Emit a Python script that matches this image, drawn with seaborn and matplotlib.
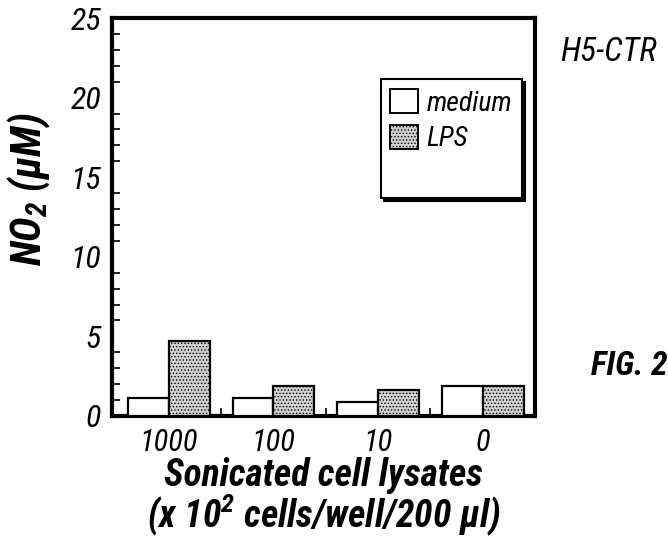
import numpy as np
import pandas as pd
import matplotlib.pyplot as plt
import seaborn as sbrn
from matplotlib.patches import Patch
from matplotlib.ticker import MultipleLocator, FixedLocator

sbrn.set_style("white")
plt.rcParams['font.family'] = ['Roboto Condensed', 'Liberation Sans', 'DejaVu Sans']
plt.rcParams['mathtext.fontset'] = 'custom'
plt.rcParams['mathtext.rm'] = 'Roboto Condensed:bold:italic'
plt.rcParams['mathtext.it'] = 'Roboto Condensed:bold:italic'
plt.rcParams['mathtext.bf'] = 'Roboto Condensed:bold:italic'
plt.rcParams['text.color'] = 'black'
plt.rcParams['xtick.color'] = 'black'
plt.rcParams['ytick.color'] = 'black'
plt.rcParams['axes.labelcolor'] = 'black'
plt.rcParams['hatch.linewidth'] = 0.6

# values
lysates = ["1000", "100", "10", "0"]
medium = [1.1, 1.1, 0.9, 1.9]
lps = [4.7, 1.9, 1.6, 1.9]

df = pd.DataFrame({
    "lysate": lysates * 2,
    "no2": medium + lps,
    "cond": ["medium"] * 4 + ["LPS"] * 4,
})

fig = plt.figure(figsize=(6.68, 5.48), dpi=100)
ax = fig.add_axes([0.168, 0.241, 0.633, 0.726])

sbrn.barplot(data=df, x="lysate", y="no2", hue="cond", order=lysates,
             hue_order=["medium", "LPS"], palette=["white", "#d0d0d0"],
             width=0.78, edgecolor="black", linewidth=1.6, legend=False,
             ax=ax, zorder=3)

for bar in ax.containers[1]:
    bar.set_hatch(".....")

ax.set_xlim(-0.54, 3.5)
ax.set_ylim(0, 25)
ax.yaxis.set_major_locator(MultipleLocator(5))
ax.yaxis.set_minor_locator(MultipleLocator(1))
ax.xaxis.set_minor_locator(FixedLocator([0.5, 1.5, 2.5]))

for s in ax.spines.values():
    s.set_linewidth(3.0)
    s.set_color("black")

ax.tick_params(axis="y", which="major", direction="in", length=12, width=1.5,
               labelsize=23, pad=8)
ax.tick_params(axis="y", which="minor", direction="in", length=6, width=1.2, left=True)
ax.tick_params(axis="x", which="major", length=0, labelsize=22, pad=9)
ax.tick_params(axis="x", which="minor", direction="in", length=6, width=1.2, bottom=True)
for lab in ax.get_xticklabels() + ax.get_yticklabels():
    lab.set_fontstyle("italic")

ax.set_xlabel("Sonicated cell lysates\n(x 10$^2$ cells/well/200 \u03bcl)",
              fontsize=27, fontweight="bold", fontstyle="italic", linespacing=0.9,
              labelpad=0)
ax.set_ylabel("NO$_2$ (\u03bcM)", fontsize=30, fontweight="bold",
              fontstyle="italic")
ax.yaxis.set_label_coords(-0.14, 0.57)

handles = [Patch(facecolor="white", edgecolor="black", linewidth=1.4),
           Patch(facecolor="#d0d0d0", edgecolor="black", linewidth=1.4, hatch="....."),
           Patch(facecolor="none", edgecolor="none")]
leg = ax.legend(handles, ["medium", "LPS", ""], loc="upper left",
                bbox_to_anchor=(0.635, 0.846), frameon=True, fancybox=False,
                shadow={"color": "black", "alpha": 1.0}, edgecolor="black",
                prop={"size": 20, "style": "italic"}, handlelength=1.0,
                handleheight=0.95, handletextpad=0.3, labelspacing=0.3,
                borderpad=0.35, borderaxespad=0)
leg.get_frame().set_linewidth(1.5)
leg.get_frame().set_alpha(1)

fig.text(0.838, 0.888, "H5-CTR", fontsize=24, fontstyle="italic")
fig.text(0.884, 0.316, "FIG. 2", fontsize=24, fontweight="bold", fontstyle="italic")

plt.savefig("out.png", dpi=100)
